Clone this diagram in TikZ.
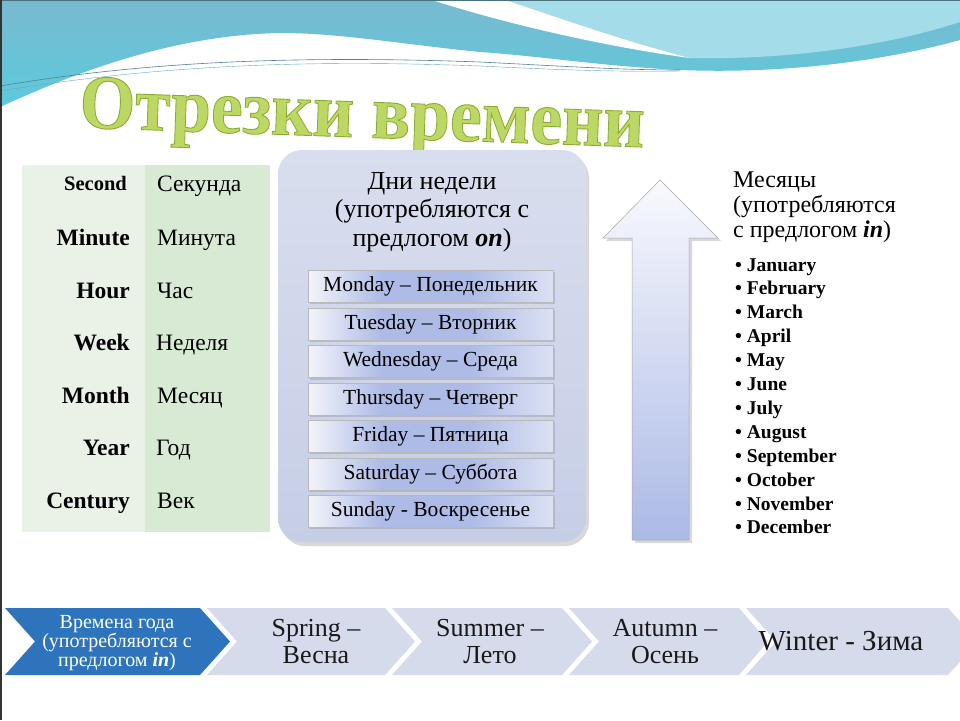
\documentclass[tikz,border=0pt]{standalone}
\usepackage{fontspec}
\setmainfont{Liberation Serif}
\usetikzlibrary{shadows}
\definecolor{topblue}{HTML}{78BAD0}
\definecolor{topcyan}{HTML}{5CCADC}
\definecolor{lightcyan}{HTML}{A4DCE9}
\definecolor{tblL}{HTML}{EAF2E7}
\definecolor{tblR}{HTML}{D8EAD3}
\definecolor{panelT}{HTML}{D9DEEE}
\definecolor{panelB}{HTML}{C6CEE6}
\definecolor{chev}{HTML}{D6DBEC}
\definecolor{chevdark}{HTML}{2E74BD}
\definecolor{titlegreen}{HTML}{BCD862}
\definecolor{dayblue}{HTML}{ABB9E6}
\definecolor{dayL}{HTML}{F3F4FA}
\definecolor{dayM}{HTML}{AEBBE6}
\definecolor{dayR}{HTML}{DCE1F3}
\pgfdeclarehorizontalshading{dayshade}{100bp}{color(0bp)=(dayL); color(25bp)=(dayL); color(40bp)=(dayM); color(58bp)=(dayM); color(75bp)=(dayR); color(100bp)=(dayR)}
\begin{document}
\begin{tikzpicture}[x=1pt,y=-1pt,
  en/.style={font=\fontsize{23.5}{26}\selectfont\bfseries, anchor=base east, inner sep=0},
  ru/.style={font=\fontsize{23.5}{26}\selectfont, anchor=base west, inner sep=0},
  daybox/.style={draw=gray!55, line width=0.5pt, minimum width=245pt, minimum height=32pt,
     shading=dayshade, shading angle=0,
     font=\fontsize{21.5}{24}\selectfont, inner sep=0,
     drop shadow={opacity=0.3, shadow xshift=1.5pt, shadow yshift=-2pt}},
  month/.style={font=\fontsize{19.5}{22}\selectfont\bfseries, anchor=base west, inner sep=0},
  chevtext/.style={font=\fontsize{26}{27}\selectfont, align=center, text=black!90},
  chevshape/.style={fill=chev}
]
\useasboundingbox (0,0) rectangle (960,720);
\fill[white] (0,0) rectangle (960,720);
% top decoration
\shade[top color=topblue, bottom color=topcyan]
  (0,0) -- (960,0) -- (960,40) .. controls (880,62) and (780,74) .. (680,70)
  .. controls (600,66) and (540,56) .. (480,52)
  .. controls (400,44) and (340,33) .. (280,33)
  .. controls (170,35) and (70,75) .. (0,107) -- cycle;
\fill[lightcyan] (505,0) -- (960,0) -- (960,22) .. controls (880,48) and (780,60) .. (690,58)
  .. controls (620,40) and (560,18) .. (505,0) -- cycle;
\fill[white] (432,0) -- (505,0) .. controls (560,18) and (620,40) .. (690,58)
  .. controls (600,46) and (500,22) .. (432,0) -- cycle;
\draw[topblue!70!black, line width=0.6pt] (0,86) .. controls (120,66) and (260,54) .. (480,62)
  .. controls (560,66) and (620,70) .. (680,70);
\draw[topblue!90!black, line width=0.4pt] (0,91) .. controls (130,70) and (270,58) .. (480,66)
  .. controls (560,70) and (620,72) .. (680,71);
\draw[topblue!60!black, line width=1.2pt] (0,0.6) -- (960,0.6);
\draw[black!80, line width=1.5pt] (0.75,0) -- (0.75,720);
% title
\node[text=titlegreen, rotate=-2, inner sep=0] (title) at (362,120)
  {\resizebox{565pt}{51pt}{\bfseries\special{pdf:literal direct 2 Tr 0.12 w 0.55 0.68 0.2 RG}Отрезки времени\special{pdf:literal direct 0 Tr}}};
% left table
\fill[tblL] (22,165) rectangle (145,532);
\fill[tblR] (145,165) rectangle (270,532);
\node[en, font=\fontsize{20.5}{24}\selectfont\bfseries] (e1) at (127,190) {Second};
\node[en] (e2) at (130,245) {Minute};
\node[en] (e3) at (130,298) {Hour};
\node[en] (e4) at (130,350) {Week};
\node[en] (e5) at (130,403) {Month};
\node[en] (e6) at (130,455) {Year};
\node[en] (e7) at (130,508) {Century};
\node[ru] (r1) at (157,191) {Секунда};
\node[ru] (r2) at (157,245) {Минута};
\node[ru] (r3) at (157,298) {Час};
\node[ru] (r4) at (156,350) {Неделя};
\node[ru] (r5) at (157,403) {Месяц};
\node[ru] (r6) at (156,455) {Год};
\node[ru] (r7) at (157,508) {Век};
% middle panel
\node[rounded corners=24pt, minimum width=308pt, minimum height=392pt, top color=panelT, bottom color=panelB,
  drop shadow={opacity=0.3, shadow xshift=3pt, shadow yshift=-4pt}] (panel) at (432,346) {};
\node[align=center, font=\fontsize{26}{28.5}\selectfont, inner sep=0] (ptitle) at (432,212)
  {Дни недели\\(употребляются с\\предлогом \textbf{\textit{on}})};
\node[daybox] (d1) at (430.5,286) {Monday – Понедельник};
\node[daybox] (d2) at (430.5,324) {Tuesday – Вторник};
\node[daybox] (d3) at (430.5,361.5) {Wednesday – Среда};
\node[daybox] (d4) at (430.5,399) {Thursday – Четверг};
\node[daybox] (d5) at (430.5,436) {Friday – Пятница};
\node[daybox] (d6) at (430.5,474) {Saturday – Суббота};
\node[daybox] (d7) at (430.5,511) {Sunday - Воскресенье};
% arrow
\shade[draw=gray!70, line width=0.5pt, top color=white!92!dayblue, bottom color=dayblue,
  drop shadow={opacity=0.3, shadow xshift=3pt, shadow yshift=-3pt}]
  (632,540) -- (632,238) -- (603,238) -- (660,180) -- (718,238) -- (689,238) -- (689,540) -- cycle;
% months
\node[align=left, anchor=north west, font=\fontsize{24}{25}\selectfont, inner sep=0] (mtitle) at (733,172)
  {Месяцы\\(употребляются\\с предлогом \textbf{\textit{in}})};
\foreach \m [count=\i] in {January,February,March,April,May,June,July,August,September,October,November,December}
  \node[month] (m\i) at (735,{271+23.9*(\i-1)}) {• \m};
% bottom chevrons
\fill[chevdark] (5,608) -- (200,608) -- (230,641.5) -- (200,675) -- (5,675) -- (35,641.5) -- cycle;
\fill[chevshape] (207,608) -- (385,608) -- (415,641.5) -- (385,675) -- (207,675) -- (237,641.5) -- cycle;
\fill[chevshape] (392,608) -- (562,608) -- (592,641.5) -- (562,675) -- (392,675) -- (422,641.5) -- cycle;
\fill[chevshape] (569,608) -- (739,608) -- (768,641.5) -- (739,675) -- (569,675) -- (599,641.5) -- cycle;
\fill[chevshape] (746,608) -- (948,608) -- (978,641.5) -- (948,675) -- (746,675) -- (776,641.5) -- cycle;
\node[align=center, font=\fontsize{20}{19}\selectfont, text=white] (c1) at (117,643)
  {Времена года\\(употребляются с\\предлогом \textbf{\textit{in}})};
\node[chevtext] (c2) at (316,642) {Spring –\\Весна};
\node[chevtext] (c3) at (490,642) {Summer –\\Лето};
\node[chevtext] (c4) at (665,642) {Autumn –\\Осень};
\node[chevtext, font=\fontsize{29}{27}\selectfont] (c5) at (841,641) {Winter - Зима};
\end{tikzpicture}
\end{document}
